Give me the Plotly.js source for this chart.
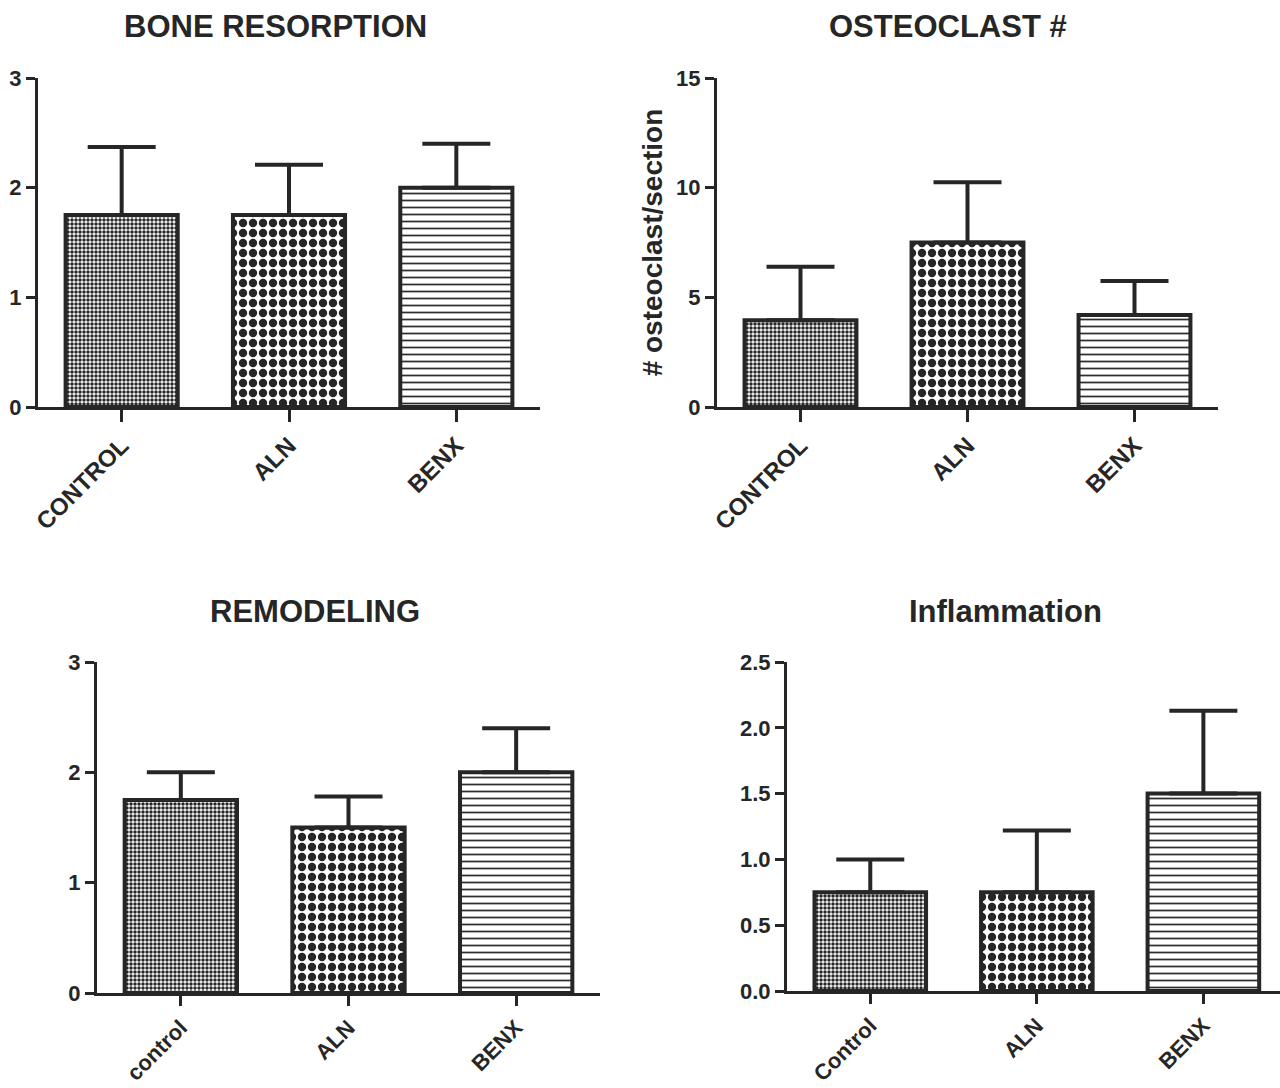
<!DOCTYPE html>
<html>
<head>
<meta charset="utf-8">
<script src="https://cdn.plot.ly/plotly-3.0.1.min.js"></script>
<style>html,body{margin:0;padding:0;background:#fff;}#chart{width:1280px;height:1088px;}</style>
</head>
<body>
<div id="chart"></div>
<script>
// ---- data ----
const titles = ["BONE RESORPTION", "OSTEOCLAST #", "REMODELING", "Inflammation"];
const cats1 = ["CONTROL", "ALN", "BENX"];
const cats2 = ["CONTROL", "ALN", "BENX"];
const cats3 = ["control", "ALN", "BENX"];
const cats4 = ["Control", "ALN", "BENX"];

const boneMean = [1.75, 1.75, 2.0];
const boneSem  = [0.62, 0.46, 0.40];
const ostMean  = [3.95, 7.5, 4.2];
const ostSem   = [2.45, 2.75, 1.55];
const remMean  = [1.75, 1.5, 2.0];
const remSem   = [0.25, 0.28, 0.40];
const infMean  = [0.75, 0.75, 1.5];
const infSem   = [0.25, 0.47, 0.63];

const yTicks1 = [0, 1, 2, 3];
const yTicks2 = [0, 5, 10, 15];
const yTicks3 = [0, 1, 2, 3];
const yTicks4 = [0, 0.5, 1.0, 1.5, 2.0, 2.5];
const yTickText4 = ["0.0", "0.5", "1.0", "1.5", "2.0", "2.5"];

// ---- style ----
const INK = "#262626";
const FONT = "Liberation Sans, Arial, sans-serif";
const pattern = {
  shape: [".", ".", "-"],
  size: [4, 10, 7],
  solidity: [0.6, 0.55, 0.25],
  fgcolor: [INK, INK, "#2e2e2e"],
  bgcolor: ["#ffffff", "#ffffff", "#ffffff"],
  fillmode: "replace"
};

function barTrace(x, y, sem, ax) {
  return {
    type: "bar", x: x, y: y, xaxis: "x" + ax, yaxis: "y" + ax,
    width: 0.67,
    marker: { color: "#ffffff", line: { color: INK, width: 4 }, pattern: pattern },
    error_y: { type: "data", symmetric: false, array: sem, arrayminus: sem.map(() => 0),
               color: INK, thickness: 4, width: 34 },
    hoverinfo: "x+y", showlegend: false
  };
}

const data = [
  barTrace(cats1, boneMean, boneSem, ""),
  barTrace(cats2, ostMean, ostSem, "2"),
  barTrace(cats3, remMean, remSem, "3"),
  barTrace(cats4, infMean, infSem, "4")
];
data[0].xaxis = "x"; data[0].yaxis = "y";

const W = 1280, H = 1088;
function xd(a, b) { return [a / W, Math.min(1, b / W)]; }
function yd(top, bottom) { return [1 - bottom / H, 1 - top / H]; }

function xaxis(dom, anchor, right, fs, tl) {
  return {
    domain: dom, anchor: anchor, range: [-0.5, right], type: "category",
    showline: true, linecolor: INK, linewidth: 3, showgrid: false, zeroline: false,
    ticks: "outside", ticklen: tl, tickwidth: 3, tickcolor: INK,
    tickangle: -45, tickfont: { family: FONT, size: fs, color: INK, weight: "bold" },
    fixedrange: true
  };
}
function yaxis(dom, anchor, range, tv, tt) {
  return {
    domain: dom, anchor: anchor, range: range,
    showline: true, linecolor: INK, linewidth: 3, showgrid: false, zeroline: false,
    ticks: "outside", ticklen: 9, tickwidth: 3, tickcolor: INK,
    tickmode: "array", tickvals: tv, ticktext: tt || tv.map(String),
    tickfont: { family: FONT, size: 22, color: INK, weight: "bold" },
    fixedrange: true
  };
}

const layout = {
  width: W, height: H,
  margin: { l: 0, r: 0, t: 0, b: 0 },
  paper_bgcolor: "#ffffff", plot_bgcolor: "#ffffff",
  font: { family: FONT, color: INK },
  bargap: 0.33,
  xaxis:  xaxis(xd(38, 540), "y", 2.5, 24, 12),
  yaxis:  yaxis(yd(78, 407), "x", [0, 3], yTicks1),
  xaxis2: xaxis(xd(717, 1218), "y2", 2.5, 24, 12),
  yaxis2: Object.assign(yaxis(yd(78, 407), "x2", [0, 15], yTicks2), {
    title: { text: "# osteoclast/section", font: { family: FONT, size: 28, color: INK, weight: "bold" }, standoff: 6 }
  }),
  xaxis3: xaxis(xd(97, 600), "y3", 2.5, 22, 10),
  yaxis3: yaxis(yd(662, 993), "x3", [0, 3], yTicks3),
  xaxis4: xaxis(xd(787, 1280), "y4", 2.46, 22, 10),
  yaxis4: yaxis(yd(662, 991), "x4", [0, 2.5], yTicks4, yTickText4),
  annotations: [
    { text: titles[0], x: 275 / W, y: 1 - 26 / H },
    { text: titles[1], x: 948 / W, y: 1 - 26 / H },
    { text: titles[2], x: 315 / W, y: 1 - 611 / H },
    { text: titles[3], x: 1005 / W, y: 1 - 611 / H }
  ].map(a => Object.assign(a, {
    xref: "paper", yref: "paper", xanchor: "center", yanchor: "middle", showarrow: false,
    font: { family: FONT, size: 31, color: INK, weight: "bold" }
  }))
};

Plotly.newPlot("chart", data, layout, { displayModeBar: false, staticPlot: true });
</script>
</body>
</html>
